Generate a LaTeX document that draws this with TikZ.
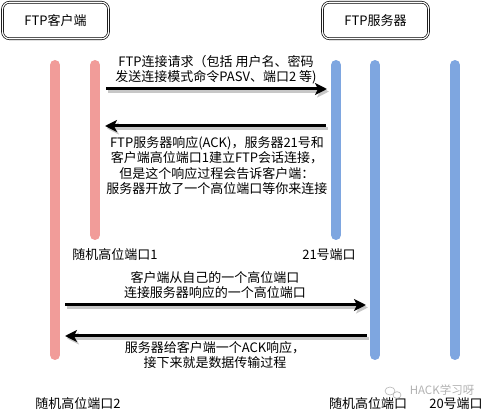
\documentclass[tikz,border=0pt]{standalone}
\usepackage{fontspec}
\setmainfont{Noto Sans CJK SC}
\usetikzlibrary{arrows.meta}
\definecolor{pinkbar}{HTML}{F19C99}
\definecolor{bluebar}{HTML}{7EA6E0}
\begin{document}
\begin{tikzpicture}[x=1pt,y=-1pt,
  txt/.style={font=\fontsize{13}{15.3}\selectfont, align=center, inner sep=0pt},
  hdr/.style={draw, double, double distance=1.2pt, line width=0.7pt, rounded corners=7pt, minimum width=106pt, minimum height=36.5pt, font=\fontsize{13}{15}\selectfont},
  pinklane/.style={line width=10pt, line cap=round, draw=pinkbar},
  bluelane/.style={line width=10pt, line cap=round, draw=bluebar},
  msg/.style={line width=3pt, -{Stealth[length=12pt,width=12pt,inset=3pt]}},
  msgshadow/.style={msg, draw=black!22, fill=black!22},
  wm/.style={font=\fontsize{11.5}{13}\selectfont, text=black!30, inner sep=0pt}
]
\useasboundingbox (0,0) rectangle (491,417);
\node[hdr] (client) at (55.5,20.5) {FTP客户端};
\node[hdr] (server) at (375.5,20.5) {FTP服务器};
% lifelines
\coordinate (c1t) at (55,65);  \coordinate (c1b) at (55,355);
\coordinate (c2t) at (95,65);  \coordinate (c2b) at (95,235);
\coordinate (s1t) at (336,65); \coordinate (s1b) at (336,235);
\coordinate (s2t) at (375,65); \coordinate (s2b) at (375,355);
\coordinate (s3t) at (455,65); \coordinate (s3b) at (455,355);
\draw[pinklane] (c1t) -- (c1b);
\draw[pinklane] (c2t) -- (c2b);
\draw[bluelane] (s1t) -- (s1b);
\draw[bluelane] (s2t) -- (s2b);
\draw[bluelane] (s3t) -- (s3b);
% message endpoints
\coordinate (m1a) at (106,89);  \coordinate (m1b) at (327,89);
\coordinate (m2a) at (326,126); \coordinate (m2b) at (105,126);
\coordinate (m3a) at (65,305);  \coordinate (m3b) at (366,305);
\coordinate (m4a) at (367,336); \coordinate (m4b) at (65,336);
\foreach \a/\b in {m1a/m1b,m2a/m2b,m3a/m3b,m4a/m4b}{
  \draw[msgshadow] ([shift={(2,2.5)}]\a) -- ([shift={(2,2.5)}]\b);
  \draw[msg] (\a) -- (\b);
}
% labels
\node[txt] (l1) at (216,69.5) {FTP连接请求（包括 用户名、密码\\发送连接模式命令PASV、端口2 等)};
\node[txt] (l2) at (217,165.5) {FTP服务器响应(ACK)，服务器21号和\\客户端高位端口1建立FTP会话连接，\\但是这个响应过程会告诉客户端：\\服务器开放了一个高位端口等你来连接};
\node[txt] (p1) at (115,255) {随机高位端口1};
\node[txt] (p21) at (329,255) {21号端口};
\node[txt] (l3) at (215,285) {客户端从自己的一个高位端口\\连接服务器响应的一个高位端口};
\node[txt] (l4) at (215,355) {服务器给客户端一个ACK响应，\\接下来就是数据传输过程};
\node[txt] (p2) at (78,404) {随机高位端口2};
\node[txt] (ps) at (368,404) {随机高位端口};
\node[txt] (p20) at (456,404) {20号端口};
% watermark
\draw[black!30, line width=0.6pt] (390,391) ellipse [x radius=5pt, y radius=4pt];
\draw[black!30, line width=0.6pt] (397,395) ellipse [x radius=4pt, y radius=3.3pt];
\node[wm] (wmark) at (442,390) {HACK学习呀};
\end{tikzpicture}
\end{document}
